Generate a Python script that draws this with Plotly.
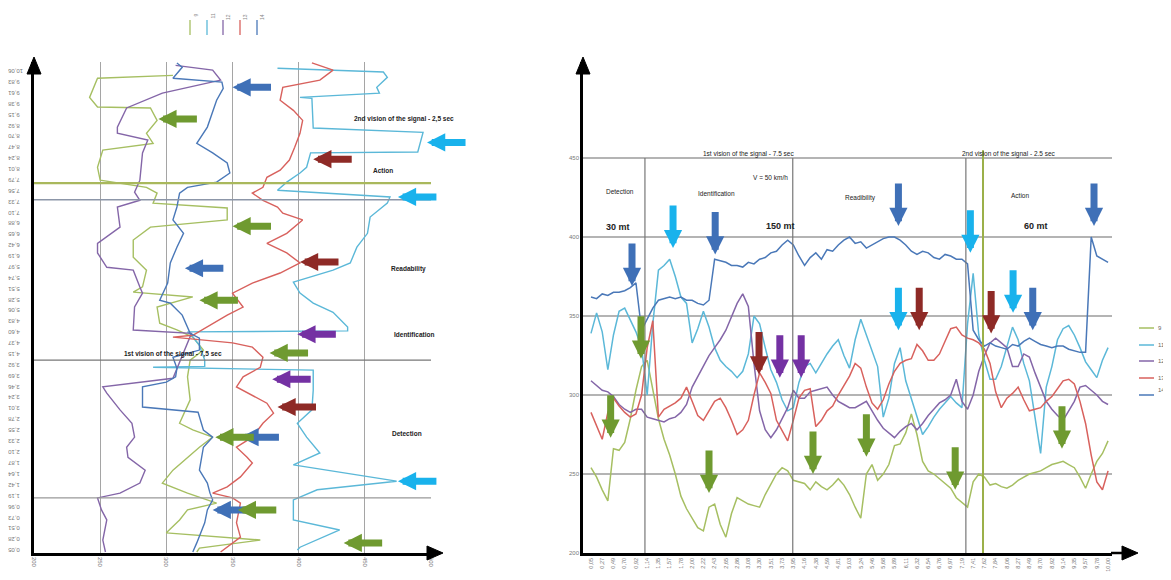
import plotly.graph_objects as go

W, H = 1171, 580
OFF = 8  # page body margin of the browser

# ---------------- RIGHT PANEL DATA (time on x) ----------------
right_tick_labels = ["0,05","0,27","0,49","0,70","0,92","1,14","1,35","1,57","1,78","2,00",
                     "2,22","2,43","2,65","2,86","3,08","3,30","3,51","3,73","3,95","4,16",
                     "4,38","4,59","4,81","5,03","5,24","5,46","5,68","5,89","6,11","6,32",
                     "6,54","6,76","6,97","7,19","7,41","7,62","7,84","8,06","8,27","8,49",
                     "8,70","8,92","9,14","9,35","9,57","9,78","10,00"]
right_y_ticks = [200, 250, 300, 350, 400, 450]

r_9 = [254,248,240,233,266,265,270,285,303,318,322,303,285,272,262,250,236,228,222,216,
       214,229,231,218,210,225,235,233,231,230,229,237,244,250,254,252,246,245,244,240,
       245,242,240,243,247,243,237,229,222,250,256,246,250,256,268,269,276,288,275,258,
       252,250,247,244,241,235,232,229,245,250,248,243,244,242,241,243,246,248,250,251,
       252,254,256,257,258,256,254,248,241,250,258,263,271]
r_11 = [339,352,340,316,338,353,355,348,340,330,300,345,379,382,386,375,362,358,333,342,
        353,343,330,322,318,315,311,315,326,350,345,330,316,308,297,290,292,308,318,320,
        314,320,326,331,335,325,317,335,348,338,328,318,286,298,320,330,309,298,287,275,
        280,286,291,295,299,295,292,345,377,338,322,310,310,318,330,343,335,320,309,285,
        263,305,318,335,342,344,338,330,321,316,311,322,330]
r_12 = [309,306,303,302,299,294,291,289,291,291,286,285,284,283,285,286,289,294,305,312,
        318,325,330,335,341,350,358,364,356,320,290,278,273,278,285,292,303,298,298,302,
        303,304,305,300,296,294,292,292,294,296,290,284,279,276,273,277,280,282,278,282,
        287,291,295,297,300,310,296,291,300,315,325,333,336,333,330,318,318,326,324,314,
        305,296,291,287,284,290,296,305,306,303,300,296,294]
r_13 = [289,280,272,289,298,293,289,286,288,300,330,347,286,291,293,295,298,305,296,287,
        284,290,296,298,292,284,275,278,284,300,314,308,301,284,277,271,284,298,303,304,
        280,284,290,293,300,306,312,320,317,305,295,291,297,307,315,320,322,323,332,328,
        322,322,326,334,342,343,338,336,335,333,329,320,302,292,298,301,305,297,290,291,
        292,296,299,304,309,310,307,296,282,262,245,240,252]
r_14 = [362,361,364,363,365,365,366,368,371,341,348,355,360,361,362,361,362,360,360,358,
        357,360,386,385,384,382,382,381,384,383,386,387,390,391,395,398,395,388,382,387,
        390,386,392,391,395,398,400,396,397,393,395,397,399,400,400,398,395,391,389,391,
        390,387,386,389,388,386,386,383,341,335,331,333,331,330,329,332,331,334,336,334,
        332,331,330,331,331,329,328,327,327,400,388,386,384]

# ---------------- LEFT PANEL DATA (time on y, value on x) ----------------
left_tick_labels = ["0,05","0,28","0,51","0,73","0,96","1,19","1,42","1,64","1,87","2,10",
                    "2,33","2,55","2,78","3,01","3,24","3,46","3,69","3,92","4,15","4,37",
                    "4,60","4,83","5,06","5,28","5,51","5,74","5,97","6,19","6,42","6,65",
                    "6,88","7,10","7,33","7,56","7,79","8,01","8,24","8,47","8,70","8,92",
                    "9,15","9,38","9,61","9,83","10,06"]
left_x_ticks = [200, 250, 300, 350, 400, 450, 500]

l9_t = [10.01,9.95,9.55,9.35,9.33,9.07,8.80,8.59,8.45,8.09,7.82,7.67,7.55,7.34,7.24,6.99,6.84,6.57,
        6.21,5.94,5.59,5.48,5.38,5.17,4.83,4.69,4.54,4.27,4.06,3.71,3.23,2.74,2.60,2.45,2.24,2.03,
        1.76,1.49,1.28,1.07,0.93,0.72,0.45,0.30,0.13,0.05]
l9_v = [305,248,242,248,288,293,285,290,252,248,250,285,293,290,346,346,288,275,
        275,285,282,275,320,293,295,308,320,328,318,316,318,310,320,335,325,316,
        305,297,316,338,316,310,300,371,325,323]
l11_t = [10.16,10.08,9.97,9.76,9.64,9.55,9.53,8.91,8.82,8.41,8.39,8.09,7.97,7.78,7.61,7.47,7.34,7.05,
         6.71,6.42,6.09,5.94,5.69,5.46,5.25,5.06,4.75,4.67,4.65,4.58,4.37,4.06,3.93,3.91,3.85,3.43,
         3.02,2.74,2.45,2.12,1.87,1.53,1.35,1.14,0.72,0.51,0.15,0.09]
l11_v = [384,464,467,459,461,401,410,411,494,490,409,406,401,391,384,469,467,454,
         452,444,439,426,396,401,411,426,437,437,316,319,325,329,329,290,411,411,
         410,399,406,416,396,474,414,396,396,431,401,399]
l12_t = [10.22,10.12,9.91,9.64,9.33,8.93,8.80,8.66,8.39,7.82,7.57,7.40,7.26,6.84,6.50,6.30,6.00,5.94,
         5.59,5.46,5.17,4.69,4.62,4.42,4.00,3.68,3.50,3.37,3.02,2.74,2.45,2.24,2.03,1.76,1.49,1.28,
         1.18,0.93,0.72,0.30,0.05]
l12_v = [307,335,341,297,270,263,263,286,282,280,276,280,263,265,248,248,255,275,
         280,282,276,275,319,316,310,305,252,255,265,274,276,270,271,284,280,265,
         248,251,255,252,254]
l13_t = [10.27,10.12,9.91,9.76,9.49,9.28,9.07,8.80,8.51,8.24,8.03,7.88,7.67,7.55,7.40,7.26,7.13,6.99,
         6.71,6.50,6.30,6.09,5.88,5.67,5.46,5.17,5.00,4.75,4.58,4.54,4.42,4.33,4.12,3.91,3.71,3.50,
         3.16,2.95,2.74,2.45,2.24,2.03,1.91,1.62,1.41,1.28,1.18,1.07,0.66,0.36,0.05]
l13_v = [410,426,416,388,386,396,403,401,397,393,386,376,373,365,373,384,388,403,
         391,376,391,401,386,365,350,358,346,331,320,305,350,365,373,371,358,353,
         376,381,373,365,353,361,365,356,346,335,350,356,353,356,341]
l14_t = [10.27,10.18,9.95,9.87,9.74,9.49,8.93,8.59,8.39,8.18,7.97,7.78,7.67,7.55,7.26,6.99,6.71,6.42,
         6.09,5.67,5.31,5.25,5.00,4.62,4.52,4.27,4.12,3.89,3.71,3.60,3.50,3.08,2.97,2.60,2.45,2.24,
         1.76,1.49,1.28,1.14,0.93,0.66,0.24,0.05]
l14_v = [308,312,305,342,343,338,331,323,335,346,348,338,316,310,308,305,313,308,
         303,301,295,303,312,318,325,325,305,308,307,300,282,282,324,328,335,328,
         325,331,333,335,331,329,323,320]

series_names = ["9", "11", "12", "13", "14"]
colors = {"9": "#a6bf62", "11": "#5bb8d8", "12": "#8466a8", "13": "#d8615d", "14": "#4a78b8"}

# annotation arrows (tip positions in data units)
right_arrows = [  # (sample index, value, colour)
    (7.3, 369, "#3f70b7"), (22.1, 389, "#3f70b7"), (54.7, 407, "#3f70b7"), (89.5, 407, "#3f70b7"),
    (78.6, 341, "#3f70b7"),
    (14.6, 393, "#19b2ec"), (67.5, 390, "#19b2ec"), (54.7, 341, "#19b2ec"), (75.1, 352, "#19b2ec"),
    (58.4, 341, "#8e2a26"), (71.2, 339, "#8e2a26"), (29.9, 313, "#8e2a26"),
    (33.6, 311, "#7431a3"), (37.4, 311, "#7431a3"),
    (8.9, 323, "#6f9a30"), (3.5, 273, "#6f9a30"), (21.0, 238, "#6f9a30"), (39.5, 250, "#6f9a30"),
    (49.0, 261, "#6f9a30"), (64.8, 240, "#6f9a30"), (83.8, 266, "#6f9a30"),
]
left_arrows = [  # (value, time, colour)
    (350, 9.76, "#3f70b7"), (294, 9.10, "#6f9a30"), (497, 8.61, "#19b2ec"), (411, 8.26, "#8e2a26"),
    (475, 7.47, "#19b2ec"), (350, 6.86, "#6f9a30"), (401, 6.11, "#8e2a26"), (314, 5.98, "#3f70b7"),
    (325, 5.31, "#6f9a30"), (399, 4.60, "#7431a3"), (378, 4.21, "#6f9a30"), (380, 3.66, "#7431a3"),
    (384, 3.08, "#8e2a26"), (356, 2.45, "#3f70b7"), (337, 2.45, "#6f9a30"), (475, 1.53, "#19b2ec"),
    (335, 0.93, "#3f70b7"), (354, 0.93, "#6f9a30"), (434, 0.24, "#6f9a30"),
]


def px(x):
    return (x - OFF) / W


def py(y):
    return 1 - (y - OFF) / H


FONT = "Liberation Sans, Arial, sans-serif"
fig = go.Figure()

left_data = {"9": (l9_t, l9_v), "11": (l11_t, l11_v), "12": (l12_t, l12_v),
             "13": (l13_t, l13_v), "14": (l14_t, l14_v)}
for n in series_names:
    t, v = left_data[n]
    fig.add_trace(go.Scatter(x=v, y=t, mode="lines", name=n, showlegend=False,
                             line=dict(color=colors[n], width=1.4), xaxis="x", yaxis="y",
                             hoverinfo="skip"))

right_data = {"9": r_9, "11": r_11, "12": r_12, "13": r_13, "14": r_14}
for n in series_names:
    vals = right_data[n]
    fig.add_trace(go.Scatter(x=list(range(len(vals))), y=vals, mode="lines", name=n,
                             showlegend=False,
                             line=dict(color=colors[n], width=1.5), xaxis="x2", yaxis="y2"))

left_tickvals = [float(s.replace(",", ".")) for s in left_tick_labels]
right_tickvals = [2 * k for k in range(len(right_tick_labels))]

axis_common = dict(showline=True, linecolor="black", linewidth=2.5, zeroline=False,
                   ticks="", automargin=False, fixedrange=True)

fig.update_layout(
    width=W, height=H, autosize=False,
    margin=dict(l=0, r=0, t=0, b=0),
    paper_bgcolor="white", plot_bgcolor="white",
    font=dict(family=FONT, color="#555"),
    showlegend=False,
    xaxis=dict(domain=[px(34), px(431)], range=[200, 500], anchor="y",
               tickvals=left_x_ticks, ticktext=[str(v) for v in left_x_ticks],
               tickangle=90, tickfont=dict(size=6, color="#777"),
               showgrid=True, gridcolor="#a5a5a5", gridwidth=1, **axis_common),
    yaxis=dict(domain=[py(553), py(62)], range=[0.029, 10.29], anchor="x",
               tickvals=left_tickvals, ticktext=left_tick_labels, tickangle=180,
               ticklabelstandoff=22,
               tickfont=dict(size=6, color="#777"), showgrid=False, **axis_common),
    xaxis2=dict(domain=[px(583), px(1112)], range=[-1.42, 92.7], anchor="y2",
                tickvals=right_tickvals, ticktext=right_tick_labels, tickangle=-90,
                tickfont=dict(size=5.5, color="#777"), showgrid=False, **axis_common),
    yaxis2=dict(domain=[py(553), py(62)], range=[200, 510.8], anchor="x2",
                tickvals=right_y_ticks, ticktext=[str(v) for v in right_y_ticks],
                tickfont=dict(size=6, color="#777"), showgrid=True, gridcolor="#b4b4b4",
                gridwidth=1.5, **axis_common),
)

shapes = []
# left panel horizontal reference lines
for t, col, w in [(7.76, "#a9b85c", 2.2), (7.41, "#8c96a8", 1.5), (4.06, "#777777", 1.3),
                  (1.18, "#999999", 1.3)]:
    shapes.append(dict(type="line", xref="x", yref="y", x0=200, x1=500, y0=t, y1=t,
                       line=dict(color=col, width=w)))
# right panel vertical reference lines
for s, col, w, top in [(9.6, "#777777", 1.2, 450), (35.9, "#777777", 1.2, 450),
                       (66.7, "#777777", 1.2, 450), (69.75, "#9bb048", 2.0, 455)]:
    shapes.append(dict(type="line", xref="x2", yref="y2", x0=s, x1=s, y0=200, y1=top,
                       line=dict(color=col, width=w)))


def tri(p1, p2, p3):
    return dict(type="path", xref="paper", yref="paper",
                path=f"M{px(p1[0])},{py(p1[1])} L{px(p2[0])},{py(p2[1])} L{px(p3[0])},{py(p3[1])} Z",
                fillcolor="black", line=dict(color="black", width=1))


# axis arrowheads
shapes.append(tri((34, 57), (27, 74), (41, 74)))
shapes.append(tri((443, 553), (427, 546), (427, 560)))
shapes.append(tri((583, 57), (576, 74), (590, 74)))
shapes.append(dict(type="line", xref="paper", yref="paper", x0=px(1111), x1=px(1124),
                   y0=py(553), y1=py(553), line=dict(color="black", width=2.5)))
shapes.append(tri((1138, 553), (1122, 546), (1122, 560)))

# left panel mini legend (vertical line samples)
for n, xp in zip(series_names, [190, 207, 223, 240, 257]):
    shapes.append(dict(type="line", xref="paper", yref="paper", x0=px(xp), x1=px(xp),
                       y0=py(20), y1=py(35), line=dict(color=colors[n], width=1.3)))
# right panel legend (horizontal line samples)
legend_rows = [328, 345, 361, 378, 395]
for n, yp in zip(series_names, legend_rows):
    shapes.append(dict(type="line", xref="paper", yref="paper", x0=px(1139), x1=px(1154),
                       y0=py(yp), y1=py(yp), line=dict(color=colors[n], width=1.5)))

fig.update_layout(shapes=shapes)

ann = []
for n, xp in zip(series_names, [190, 207, 223, 240, 257]):
    ann.append(dict(xref="paper", yref="paper", x=px(xp), y=py(12), text=n, showarrow=False,
                    textangle=-90, font=dict(size=5, color="#888")))
for n, yp in zip(series_names, legend_rows):
    ann.append(dict(xref="paper", yref="paper", x=px(1156), y=py(yp), text=n, showarrow=False,
                    xanchor="left", font=dict(size=6, color="#666")))

# left panel texts
for txt, x, y in [("2nd vision of the signal - 2,5 sec", 352, 113), ("Action", 371, 165),
                  ("Readability", 389, 269), ("Identification", 392, 334),
                  ("1st vision of the signal - 7,5 sec", 122, 354), ("Detection", 390, 439)]:
    ann.append(dict(xref="paper", yref="paper", x=px(x), y=py(y), text=f"<b>{txt}</b>",
                    showarrow=False, font=dict(size=6.5, color="#222")))

# right panel texts
for txt, x, y, sz, b in [("1st vision of the signal - 7.5 sec", 796, 148, 6.5, False),
                         ("2nd vision of the signal - 2.5 sec", 1058, 148, 6.5, False),
                         ("V = 50 km/h", 790, 172, 6.5, False),
                         ("Detection", 620, 186, 6.5, False),
                         ("Identification", 716, 188, 6.5, False),
                         ("Readibility", 878, 192, 6.5, False),
                         ("Action", 1031, 190, 6.5, False),
                         ("30 mt", 618, 227, 9, True), ("150 mt", 797, 226, 9, True),
                         ("60 mt", 1050, 226, 9, True)]:
    ann.append(dict(xref="paper", yref="paper", x=px(x), y=py(y),
                    text=f"<b>{txt}</b>" if b else txt, showarrow=False,
                    font=dict(size=sz, color="#222")))

for s, v, c in right_arrows:
    ann.append(dict(xref="x2", yref="y2", x=s, y=v, ax=0, ay=-44, text="", showarrow=True,
                    arrowhead=2, arrowsize=0.52, arrowwidth=7, arrowcolor=c))
for v, t, c in left_arrows:
    ann.append(dict(xref="x", yref="y", x=v, y=t, ax=40, ay=0, text="", showarrow=True,
                    arrowhead=2, arrowsize=0.52, arrowwidth=7, arrowcolor=c))

fig.update_layout(annotations=ann)
fig.write_html("out.html")
